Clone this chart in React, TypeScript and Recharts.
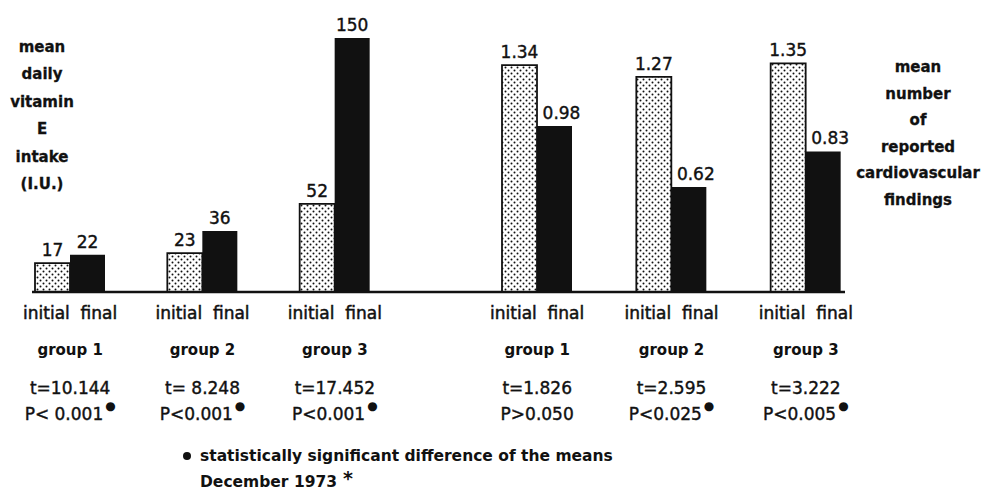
import React from "react";
import { BarChart, Bar, XAxis, YAxis, LabelList } from "recharts";

const FONT = "'DejaVu Sans', sans-serif";
const INK = "#111";

// vitamin E intake panel
const groups = ["group 1", "group 2", "group 3"];
const vitaminInitial = [17, 23, 52];
const vitaminFinal = [22, 36, 150];
const vitaminT = ["t=10.144", "t= 8.248", "t=17.452"];
const vitaminP = ["P< 0.001", "P<0.001", "P<0.001"];
const vitaminSig = [true, true, true];

// cardiovascular findings panel
const cardioInitial = [1.34, 1.27, 1.35];
const cardioFinal = [0.98, 0.62, 0.83];
const cardioT = ["t=1.826", "t=2.595", "t=3.222"];
const cardioP = ["P>0.050", "P<0.025", "P<0.005"];
const cardioSig = [false, true, true];

const vitaminTitle = ["mean", "daily", "vitamin", "E", "intake", "(I.U.)"];
const cardioTitle = ["mean", "number", "of", "reported", "cardiovascular", "findings"];
const footnote = "statistically significant difference of the means";
const dateNote = "December 1973";

const vitaminData = groups.map((g, i) => ({
  group: g,
  initial: vitaminInitial[i],
  final: vitaminFinal[i],
}));

const cardioData = groups.map((g, i) => ({
  group: g,
  initial: cardioInitial[i],
  final: cardioFinal[i],
}));

const makeTick =
  (tValues: string[], pValues: string[], sig: boolean[]) => (props: any) => {
    const { x, y, payload } = props;
    const i = payload.index;
    return (
      <g fontFamily={FONT} fill={INK}>
        <text
          x={x}
          y={y + 27}
          textAnchor="middle"
          fontSize={17}
          stroke={INK}
          strokeWidth={0.5}
          style={{ whiteSpace: "pre" }}
        >
          {"initial  final"}
        </text>
        <text x={x} y={y + 63} textAnchor="middle" fontSize={15} fontWeight="bold">
          {payload.value}
        </text>
        <text
          x={x}
          y={y + 102}
          textAnchor="middle"
          fontSize={17}
          stroke={INK}
          strokeWidth={0.4}
          style={{ whiteSpace: "pre" }}
        >
          {tValues[i]}
        </text>
        <text
          x={x}
          y={y + 128}
          textAnchor="middle"
          fontSize={17}
          stroke={INK}
          strokeWidth={0.4}
          style={{ whiteSpace: "pre" }}
        >
          {pValues[i]}
          {sig[i] && (
            <tspan dx={2} dy={-10} fontSize={12} strokeWidth={0}>
              ●
            </tspan>
          )}
        </text>
      </g>
    );
  };

const makeLabel = (digits: number, dx: number) => (props: any) => {
  const { x, y, width, value } = props;
  return (
    <text
      x={Number(x) + Number(width) / 2 + dx}
      y={Number(y) - 7}
      textAnchor="middle"
      fontFamily={FONT}
      fontSize={17}
      fill={INK}
      stroke={INK}
      strokeWidth={0.4}
    >
      {Number(value).toFixed(digits)}
    </text>
  );
};

const DotPattern = ({ id }: { id: string }) => (
  <defs>
    <pattern id={id} width={6} height={6} patternUnits="userSpaceOnUse">
      <rect width={6} height={6} fill="#fff" />
      <circle cx={1.5} cy={1.5} r={1} fill={INK} />
      <circle cx={4.5} cy={4.5} r={1} fill={INK} />
    </pattern>
  </defs>
);

const chartStyle: React.CSSProperties = { position: "absolute", left: 0, top: 0 };

export default function App() {
  return (
    <div style={{ position: "relative", width: 999, height: 495, background: "#fff" }}>
      <style>{"body{margin:0}"}</style>

      <div style={chartStyle}>
        <BarChart
          width={999}
          height={495}
          data={vitaminData}
          margin={{ top: 21, right: 598, bottom: 0, left: 4 }}
          barGap={0}
          barSize={35}
        >
          <DotPattern id="dotsVitamin" />
          <XAxis
            dataKey="group"
            height={203}
            axisLine={false}
            tickLine={false}
            tickSize={0}
            tickMargin={0}
            interval={0}
            tick={makeTick(vitaminT, vitaminP, vitaminSig)}
          />
          <YAxis hide domain={[0, 160]} />
          <Bar
            dataKey="initial"
            fill="url(#dotsVitamin)"
            stroke={INK}
            strokeWidth={1.8}
            isAnimationActive={false}
          >
            <LabelList dataKey="initial" content={makeLabel(0, 0)} />
          </Bar>
          <Bar dataKey="final" fill={INK} isAnimationActive={false}>
            <LabelList dataKey="final" content={makeLabel(0, 0)} />
          </Bar>
        </BarChart>
      </div>

      <div style={chartStyle}>
        <BarChart
          width={999}
          height={495}
          data={cardioData}
          margin={{ top: 21, right: 126, bottom: 0, left: 470 }}
          barGap={0}
          barSize={35}
        >
          <DotPattern id="dotsCardio" />
          <XAxis
            dataKey="group"
            height={203}
            axisLine={false}
            tickLine={false}
            tickSize={0}
            tickMargin={0}
            interval={0}
            tick={makeTick(cardioT, cardioP, cardioSig)}
          />
          <YAxis hide domain={[0, 1.6]} />
          <Bar
            dataKey="initial"
            fill="url(#dotsCardio)"
            stroke={INK}
            strokeWidth={1.8}
            isAnimationActive={false}
          >
            <LabelList dataKey="initial" content={makeLabel(2, 0)} />
          </Bar>
          <Bar dataKey="final" fill={INK} isAnimationActive={false}>
            <LabelList dataKey="final" content={makeLabel(2, 7)} />
          </Bar>
        </BarChart>
      </div>

      <svg
        width={999}
        height={495}
        style={{ position: "absolute", left: 0, top: 0, pointerEvents: "none" }}
        fontFamily={FONT}
      >
        {/* shared baseline under both panels */}
        <line x1={32} y1={292} x2={845} y2={292} stroke={INK} strokeWidth={2.5} />

        {vitaminTitle.map((t, i) => (
          <text
            key={t}
            x={42}
            y={52 + i * 27.4}
            textAnchor="middle"
            fontSize={15}
            fontWeight="bold"
            fill={INK}
            stroke={INK}
            strokeWidth={0.3}
          >
            {t}
          </text>
        ))}
        {cardioTitle.map((t, i) => (
          <text
            key={t}
            x={918}
            y={72 + i * 26.5}
            textAnchor="middle"
            fontSize={15}
            fontWeight="bold"
            fill={INK}
            stroke={INK}
            strokeWidth={0.3}
          >
            {t}
          </text>
        ))}

        <circle cx={187} cy={456} r={4} fill={INK} />
        <text x={200} y={461} fontSize={15.5} fontWeight="bold" fill={INK} style={{ whiteSpace: "pre" }}>
          {footnote}
        </text>
        <text x={200} y={487} fontSize={15.5} fontWeight="bold" fill={INK}>
          {dateNote}
          <tspan dx={6} dy={-2} fontSize={19}>*</tspan>
        </text>
      </svg>
    </div>
  );
}
